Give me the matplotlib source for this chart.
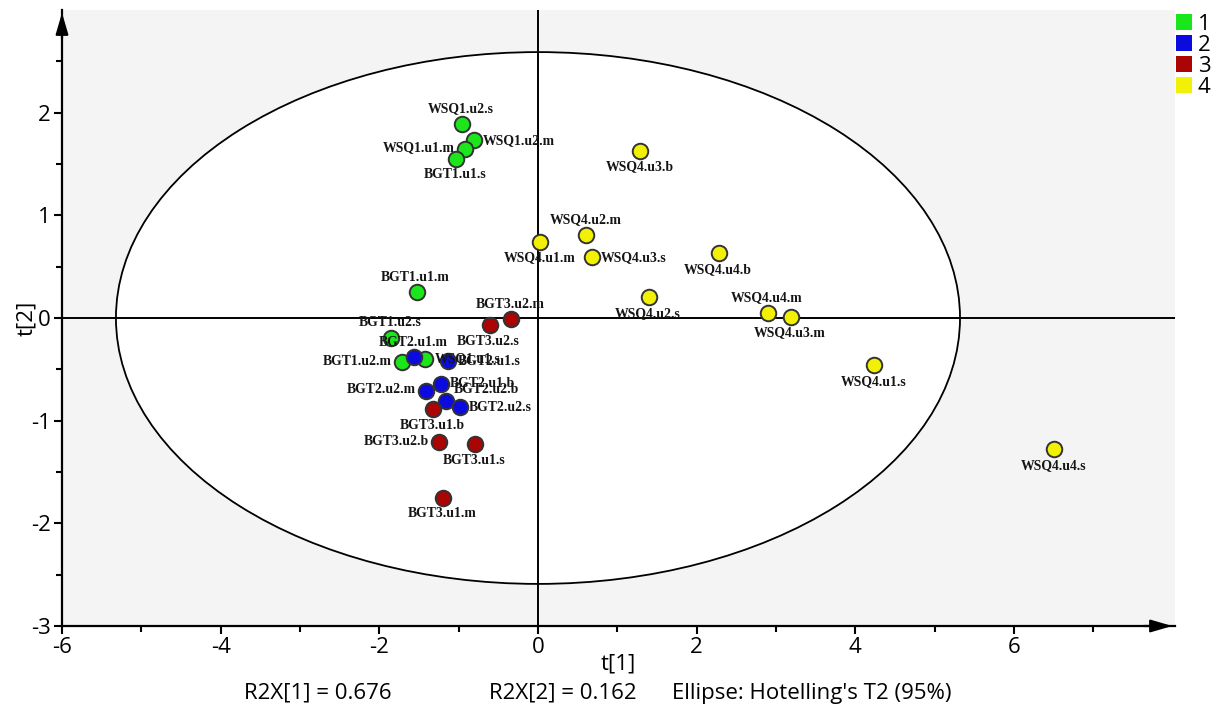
import matplotlib
matplotlib.use('Agg')
import matplotlib.pyplot as plt
from matplotlib.patches import Ellipse
from matplotlib.lines import Line2D

# scores t[1], t[2]
names = ['WSQ1.u2.s', 'WSQ1.u2.m', 'WSQ1.u1.m', 'BGT1.u1.s', 'BGT1.u1.m',
         'BGT1.u2.s', 'BGT1.u2.m', 'WSQ1.u1.s',
         'BGT2.u1.m', 'BGT2.u1.s', 'BGT2.u1.b', 'BGT2.u2.m', 'BGT2.u2.b', 'BGT2.u2.s',
         'BGT3.u2.m', 'BGT3.u2.s', 'BGT3.u1.b', 'BGT3.u2.b', 'BGT3.u1.s', 'BGT3.u1.m',
         'WSQ4.u3.b', 'WSQ4.u2.m', 'WSQ4.u1.m', 'WSQ4.u3.s', 'WSQ4.u4.b', 'WSQ4.u2.s',
         'WSQ4.u4.m', 'WSQ4.u3.m', 'WSQ4.u1.s', 'WSQ4.u4.s']
t1 = [-0.96, -0.81, -0.92, -1.03, -1.53, -1.85, -1.72, -1.42,
      -1.56, -1.13, -1.22, -1.41, -1.16, -0.98,
      -0.34, -0.61, -1.32, -1.25, -0.79, -1.20,
      1.29, 0.61, 0.03, 0.68, 2.28, 1.40, 2.90, 3.19, 4.24, 6.51]
t2 = [1.89, 1.73, 1.65, 1.55, 0.25, -0.19, -0.43, -0.40,
      -0.38, -0.42, -0.64, -0.71, -0.81, -0.87,
      -0.01, -0.07, -0.89, -1.21, -1.23, -1.75,
      1.63, 0.81, 0.74, 0.59, 0.63, 0.20, 0.05, 0.01, -0.46, -1.28]
group = [1] * 8 + [2] * 6 + [3] * 6 + [4] * 10
group_names = ['1', '2', '3', '4']

r2x = [0.676, 0.162]
ellipse_axes = [5.32, 2.59]

# where each label sits relative to its point
side = {'WSQ1.u2.s': 'above', 'WSQ1.u2.m': 'right', 'WSQ1.u1.m': 'left', 'BGT1.u1.s': 'below',
        'BGT1.u1.m': 'above', 'BGT1.u2.s': 'above', 'BGT1.u2.m': 'left', 'WSQ1.u1.s': 'right',
        'BGT2.u1.m': 'above', 'BGT2.u1.s': 'right', 'BGT2.u1.b': 'right', 'BGT2.u2.m': 'left',
        'BGT2.u2.b': 'upright', 'BGT2.u2.s': 'right',
        'BGT3.u2.m': 'above', 'BGT3.u2.s': 'below', 'BGT3.u1.b': 'below', 'BGT3.u2.b': 'left',
        'BGT3.u1.s': 'below', 'BGT3.u1.m': 'below',
        'WSQ4.u3.b': 'below', 'WSQ4.u2.m': 'above', 'WSQ4.u1.m': 'below', 'WSQ4.u3.s': 'right',
        'WSQ4.u4.b': 'below', 'WSQ4.u2.s': 'below', 'WSQ4.u4.m': 'above', 'WSQ4.u3.m': 'below',
        'WSQ4.u1.s': 'below', 'WSQ4.u4.s': 'below'}
offsets = {'above': ((-1, 15), 'center'), 'below': ((-1, -16), 'center'),
           'left': ((-10, 1), 'right'), 'right': ((9, 0), 'left'),
           'upright': ((8, 12), 'left')}

colors = {1: '#1be51b', 2: '#0b0be0', 3: '#aa0404', 4: '#f2f005'}

plt.rcParams['font.family'] = ['Open Sans', 'DejaVu Sans']
plt.rcParams['axes.unicode_minus'] = False

fig = plt.figure(figsize=(12.22, 7.09), dpi=100)
ax = fig.add_axes([62 / 1222, 83 / 709, 1113 / 1222, 616 / 709])
ax.set_facecolor('#f4f4f4')
ax.set_xlim(-6, 8.03)
ax.set_ylim(-3, 3)

ax.axhline(0, color='black', lw=1.4, zorder=1)
ax.axvline(0, color='black', lw=1.4, zorder=1)
ax.add_patch(Ellipse((0, 0), 2 * ellipse_axes[0], 2 * ellipse_axes[1],
                     facecolor='white', edgecolor='black', lw=1.3, zorder=0.5))

for g in [1, 2, 3, 4]:
    xs = [x for x, gg in zip(t1, group) if gg == g]
    ys = [y for y, gg in zip(t2, group) if gg == g]
    ax.scatter(xs, ys, s=125, color=colors[g], edgecolors='#333333', linewidths=1.4, zorder=3)

for n, x, y in zip(names, t1, t2):
    (dx, dy), ha = offsets[side[n]]
    ax.annotate(n, (x, y), xytext=(dx, dy), textcoords='offset pixels', ha=ha, va='center',
                fontsize=9.9, fontweight='bold', family='Liberation Serif', color='#151515',
                zorder=4)

for s in ['top', 'right']:
    ax.spines[s].set_visible(False)
for s in ['left', 'bottom']:
    ax.spines[s].set_linewidth(1.6)
ax.annotate('', xy=(8.03, -3), xytext=(7.6, -3), annotation_clip=False,
            arrowprops=dict(arrowstyle='-|>,head_length=1.3,head_width=0.38', color='black', lw=1.6))
ax.annotate('', xy=(-6, 3.0), xytext=(-6, 2.7), annotation_clip=False,
            arrowprops=dict(arrowstyle='-|>,head_length=1.3,head_width=0.38', color='black', lw=1.6))

ax.set_xticks([-6, -4, -2, 0, 2, 4, 6])
ax.set_xticks([-5, -3, -1, 1, 3, 5, 7], minor=True)
ax.set_yticks([-3, -2, -1, 0, 1, 2])
ax.set_yticks([-2.5, -1.5, -0.5, 0.5, 1.5, 2.5], minor=True)
ax.tick_params(which='major', length=6, width=1.5, labelsize=16, pad=2)
ax.tick_params(which='minor', length=4, width=1.5)

ax.set_xlabel('t[1]', fontsize=16)
ax.xaxis.set_label_coords(0.5, -0.045)
ax.set_ylabel('t[2]', fontsize=16)
ax.yaxis.set_label_coords(-0.022, 0.5)

bottom = [f'R2X[1] = {r2x[0]}', f'R2X[2] = {r2x[1]}', "Ellipse: Hotelling's T2 (95%)"]
for txt, cx in zip(bottom, [318, 563, 812]):
    fig.text(cx / 1222, 0.022, txt, ha='center', va='center', fontsize=16)

handles = [Line2D([], [], marker='s', ls='none', markersize=12, markeredgewidth=0,
                  color=colors[g]) for g in [1, 2, 3, 4]]
fig.legend(handles, group_names, loc='upper right', bbox_to_anchor=(1.005, 1.006), frameon=False,
           fontsize=16, handlelength=0.8, handletextpad=0.2, labelspacing=0.0, borderpad=0.3)

fig.savefig('out.png', dpi=100)
